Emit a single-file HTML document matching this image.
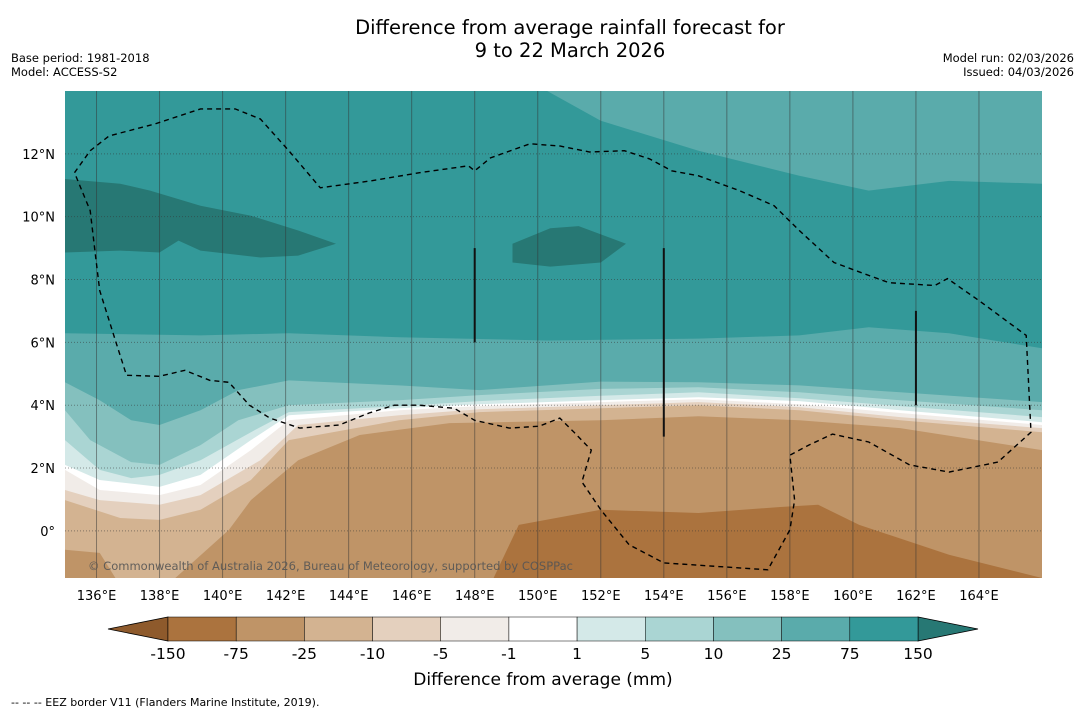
<!DOCTYPE html>
<html><head><meta charset="utf-8">
<style>
body{margin:0;background:#fff;width:1085px;height:713px;overflow:hidden;font-family:"DejaVu Sans","Liberation Sans",sans-serif;}
svg{display:block}
</style></head>
<body>
<svg id="chart" width="1085" height="713" viewBox="0 0 1085 713" xmlns="http://www.w3.org/2000/svg" font-family="DejaVu Sans, Liberation Sans, sans-serif">
<text x="570" y="34" font-size="19.5" text-anchor="middle">Difference from average rainfall forecast for</text>
<text x="570" y="57" font-size="19.5" text-anchor="middle">9 to 22 March 2026</text>
<text x="11" y="62" font-size="11.5">Base period: 1981-2018</text>
<text x="11" y="76" font-size="11.5">Model: ACCESS-S2</text>
<text x="1074" y="62" font-size="11.5" text-anchor="end">Model run: 02/03/2026</text>
<text x="1074" y="76" font-size="11.5" text-anchor="end">Issued: 04/03/2026</text>
<defs><clipPath id="mapclip"><rect x="65" y="91" width="977" height="487"/></clipPath></defs>
<g id="map" clip-path="url(#mapclip)"></g>
<g id="axes"></g>
<g id="cbar"></g>
<text x="543" y="685" font-size="17" text-anchor="middle">Difference from average (mm)</text>
<text x="11" y="706" font-size="11">--  --  -- EEZ border V11 (Flanders Marine Institute, 2019).</text>
</svg>
<script>
// ---- data ----
const levels=["-150","-75","-25","-10","-5","-1","1","5","10","25","75","150"];
const bandColors=["#ab733e","#bf9467","#d3b391","#e4d0be","#f1ece8","#ffffff","#d4e9e8","#aad5d3","#84c0be","#5aabab","#339999"];
const extLow="#8e5a2c", extHigh="#277874";
const lonTicks=[136,138,140,142,144,146,148,150,152,154,156,158,160,162,164];
const latTicks=[0,2,4,6,8,10,12];
// contour boundaries [lon,lat]
const b75=[[135,6.29],[139.3,6.22],[142.1,6.29],[145.6,6.16],[150.3,6.06],[155.1,6.12],[158.3,6.22],[160.5,6.48],[163.05,6.29],[166,5.81]];
const b25=[[135,4.73],[136.1,4.16],[137.1,3.52],[138,3.37],[139.3,3.84],[140.5,4.48],[142.1,4.79],[145.6,4.63],[148.15,4.48],[152,4.75],[155.1,4.73],[158.3,4.63],[161.5,4.41],[166,4.1]];
const b10=[[135,3.84],[135.8,2.89],[137.1,2.19],[138,2.1],[139.3,2.73],[140.5,3.52],[142.1,4.0],[145.6,4.16],[148.15,4.32],[152,4.52],[155.1,4.57],[158.3,4.41],[161.5,4.16],[166,3.84]];
const b5=[[135,2.89],[136.1,1.94],[137.1,1.68],[138,1.78],[139.3,2.25],[140.9,3.14],[142.1,3.78],[145.6,3.97],[148.15,4.13],[152,4.3],[155.1,4.41],[158.3,4.22],[161.5,3.97],[166,3.62]];
const b1=[[135,2.1],[136.1,1.62],[138,1.4],[139.3,1.78],[140.9,2.89],[142.1,3.68],[145.6,3.9],[148.15,4.03],[152,4.16],[155.1,4.25],[158.3,4.13],[161.5,3.84],[166,3.46]];
const bm1=[[135,1.94],[136.1,1.3],[138,1.14],[139.3,1.46],[140.9,2.57],[142.1,3.52],[145.6,3.84],[148.15,3.97],[152,4.1],[155.1,4.19],[158.3,4.03],[161.5,3.75],[166,3.37]];
const bm5=[[135,1.3],[136.1,0.98],[138,0.83],[139.3,1.14],[141.2,2.25],[142.4,3.37],[145.6,3.68],[148.15,3.87],[152,4.0],[155.1,4.1],[158.3,3.94],[161.5,3.62],[166,3.27]];
const bm10=[[135,0.98],[136.75,0.41],[138,0.35],[139.3,0.67],[140.9,1.62],[142.1,2.89],[145.6,3.52],[148.15,3.78],[152,3.9],[155.1,4.0],[158.3,3.84],[161.5,3.52],[166,3.14]];
const bm25=[[138.5,-1.5],[140.2,0.03],[140.9,0.98],[142.4,2.25],[144.35,3.05],[147.2,3.43],[152,3.52],[155.1,3.65],[158.3,3.52],[161.5,3.27],[166,2.57]];
const bm25b=[[135,-0.6],[136.1,-0.7],[136.6,-1.5],[135,-1.5]];
const bm75=[[148.6,-1.5],[149.4,0.19],[152,0.67],[155.1,0.57],[157.7,0.76],[158.9,0.83],[160.2,0.19],[163.05,-0.76],[166,-1.5]];
const topLight=[[150.3,14],[152,13.05],[155.1,12.1],[158.3,11.3],[160.5,10.83],[163.05,11.14],[166,11.05],[166,14]];
const darkWest=[[135,11.2],[136.75,11.05],[137.7,10.83],[139.3,10.35],[140.9,10.03],[142.4,9.56],[143.6,9.14],[142.4,8.76],[141.2,8.7],[139.3,8.92],[138.6,9.24],[138,8.86],[136.75,8.92],[135,8.86]];
const darkMid=[[149.2,9.14],[150.4,9.63],[151.3,9.7],[152.1,9.4],[152.8,9.14],[152,8.54],[150.4,8.41],[149.2,8.54]];
const eez=[[135.3,11.4],[135.8,12.1],[136.4,12.57],[137.85,12.95],[139.3,13.43],[140.4,13.43],[141.2,13.11],[142.1,12.1],[143.1,10.92],[144.7,11.14],[146.25,11.4],[147.8,11.62],[148,11.46],[148.5,11.87],[149.75,12.32],[150.7,12.25],[151.65,12.06],[152.75,12.1],[153.55,11.84],[154.25,11.46],[155.1,11.3],[156.4,10.83],[157.5,10.35],[158.3,9.56],[159.4,8.54],[160.5,8.13],[161.15,7.9],[162.6,7.81],[163,8.03],[164,7.33],[165.5,6.22],[165.65,3.14],[164.6,2.19],[163.05,1.87],[161.8,2.1],[160.5,2.83],[159.35,3.08],[158.6,2.73],[158,2.41],[158.15,0.98],[158,0.03],[157.3,-1.24],[154,-1.02],[152.9,-0.44],[152,0.67],[151.4,1.56],[151.7,2.57],[151.15,3.14],[150.7,3.59],[150.05,3.33],[149.1,3.27],[148,3.52],[147.35,3.9],[146.25,4.0],[145.45,4.0],[144.65,3.75],[143.7,3.37],[142.45,3.27],[141.5,3.59],[140.85,4.0],[140.2,4.73],[139.6,4.79],[138.8,5.11],[138,4.92],[136.95,4.95],[136.6,6.06],[136.1,7.65],[135.95,8.92],[135.8,10.19],[135.3,11.4]];
const boundaryLines=[[148,6,9],[154,3,9],[162,4,7]];

// ---- axes ----
const X0=65,X1=1042,Y0=91,Y1=578,LON0=135,LON1=166,LAT0=-1.5,LAT1=14;
const xs=l=>X0+(l-LON0)/(LON1-LON0)*(X1-X0);
const ys=l=>Y1-(l-LAT0)/(LAT1-LAT0)*(Y1-Y0);
const NS="http://www.w3.org/2000/svg";
function mk(tag,attrs,parent){const e=document.createElementNS(NS,tag);for(const k in attrs)e.setAttribute(k,attrs[k]);parent.appendChild(e);return e;}
const pts=a=>a.map(p=>xs(p[0]).toFixed(1)+","+ys(p[1]).toFixed(1)).join(" ");
const map=document.getElementById("map");
const axes=document.getElementById("axes");
let bg=mk("rect",{x:X0,y:Y0,width:X1-X0,height:Y1-Y0,fill:bandColors[10]},map);


let tl=mk("polygon",{points:pts(topLight),fill:bandColors[9]},map);


[darkWest,darkMid].forEach(d=>{
  const e=mk("polygon",{points:pts(d),fill:extHigh},map);
  
  
});
const belowSeq=[[b75,9,"band-25-75"],[b25,8,"band-10-25"],[b10,7,"band-5-10"],[b5,6,"band-1-5"],[b1,5,"band-neutral"],[bm1,4,"band-minus5-minus1"],[bm5,3,"band-minus10-minus5"],[bm10,2,"band-minus25-minus10"]];
belowSeq.forEach(s=>{
  const poly=s[0].concat([[LON1,LAT0],[LON0,LAT0]]);
  const e=mk("polygon",{points:pts(poly),fill:bandColors[s[1]]},map);
  
  
});
let m25=mk("polygon",{points:pts(bm25.concat([[LON1,LAT0]])),fill:bandColors[1]},map);


let m25b=mk("polygon",{points:pts(bm25b),fill:bandColors[1]},map);


let m75=mk("polygon",{points:pts(bm75),fill:bandColors[0]},map);


// gridlines
lonTicks.forEach(l=>{
  const g=mk("line",{x1:xs(l),x2:xs(l),y1:Y0,y2:Y1,stroke:"#333","stroke-opacity":0.5,"stroke-width":1},map);
  
  
  const t=mk("text",{x:xs(l),y:600,"font-size":13,"text-anchor":"middle"},axes);
  t.textContent=l+"°E";
  
  
});
latTicks.forEach(l=>{
  const g=mk("line",{x1:X0,x2:X1,y1:ys(l),y2:ys(l),stroke:"#333","stroke-opacity":0.5,"stroke-width":1,"stroke-dasharray":"1,2"},map);
  
  
  const t=mk("text",{x:55,y:ys(l)+5,"font-size":13,"text-anchor":"end"},axes);
  t.textContent=l===0?"0°":l+"°N";
  
  
});
let ez=mk("polyline",{points:pts(eez),fill:"none",stroke:"#000","stroke-width":1.4,"stroke-dasharray":"5,4"},map);


boundaryLines.forEach(b=>{
  const e=mk("line",{x1:xs(b[0]),x2:xs(b[0]),y1:ys(b[1]),y2:ys(b[2]),stroke:"#111","stroke-width":2},map);
  
  
});
let cp=mk("text",{x:88,y:570,"font-size":11.5,fill:"#555","fill-opacity":0.9,textLength:485},map);
cp.textContent="© Commonwealth of Australia 2026, Bureau of Meteorology, supported by COSPPac";


// colorbar
const cb=document.getElementById("cbar");
const CX0=168,CX1=918,CY0=617,CY1=641,segW=(CX1-CX0)/bandColors.length;
let tL=mk("polygon",{points:`108,629 ${CX0},${CY0} ${CX0},${CY1}`,fill:extLow,stroke:"#000","stroke-width":0.8},cb);


let tR=mk("polygon",{points:`978,629 ${CX1},${CY0} ${CX1},${CY1}`,fill:extHigh,stroke:"#000","stroke-width":0.8},cb);


bandColors.forEach((c,i)=>{
  const r=mk("rect",{x:CX0+i*segW,y:CY0,width:segW,height:CY1-CY0,fill:c,stroke:"#000","stroke-width":0.5},cb);
  
  
});
levels.forEach((l,i)=>{
  const t=mk("text",{x:CX0+i*segW,y:659,"font-size":15.5,"text-anchor":"middle"},cb);
  t.textContent=l;
  
  
});
</script>
</body></html>
